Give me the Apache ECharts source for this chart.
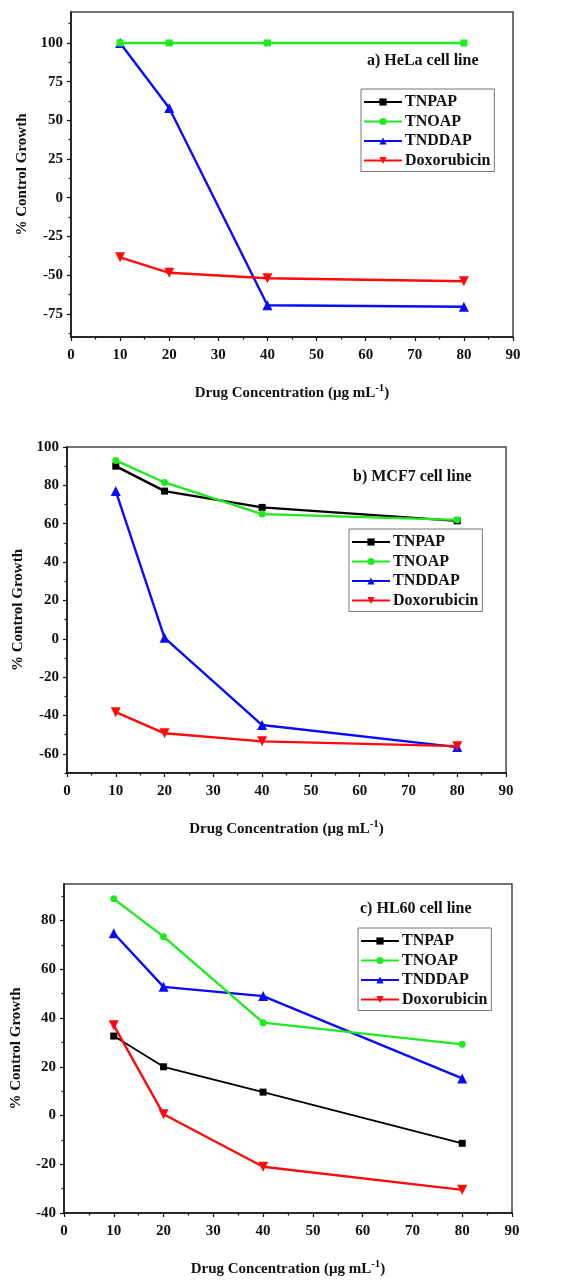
<!DOCTYPE html>
<html>
<head>
<meta charset="utf-8">
<script src="https://cdn.jsdelivr.net/npm/echarts@6/dist/echarts.min.js"></script>
<style>
  html, body { margin: 0; padding: 0; background: #fff; }
  #main { width: 561px; height: 1281px; }
</style>
</head>
<body>
<div id="main"></div>
<script>
// drug concentrations (ug/mL) and series names
var conc = [10, 20, 40, 80];
var names = ['TNPAP', 'TNOAP', 'TNDDAP', 'Doxorubicin'];

// a) HeLa
var helaTNPAP = [100, 100, 100, 100];
var helaTNOAP = [100, 100, 100, 100];
var helaTNDDAP = [100, 58, -69.5, -70.5];
var helaDox = [-38.5, -48.5, -52, -54];

// b) MCF7
var mcfTNPAP = [90, 77, 68.5, 61.5];
var mcfTNOAP = [93, 81.5, 65, 62];
var mcfTNDDAP = [77, 0.5, -45, -56.5];
var mcfDox = [-38.3, -49.3, -53.5, -56];

// c) HL60
var hlTNPAP = [32.6, 20, 9.6, -11.4];
var hlTNOAP = [88.9, 73.4, 38.1, 29.2];
var hlTNDDAP = [74.8, 52.8, 49, 15.2];
var hlDox = [37, 0.5, -21, -30.5];

// tick labels
var xTicks = [0, 10, 20, 30, 40, 50, 60, 70, 80, 90];
var xMinor = [5, 15, 25, 35, 45, 55, 65, 75, 85];
var yTicksA = [-75, -50, -25, 0, 25, 50, 75, 100];
var yMinorA = [-87.5, -62.5, -37.5, -12.5, 12.5, 37.5, 62.5, 87.5, 112.5];
var yTicksB = [-60, -40, -20, 0, 20, 40, 60, 80, 100];
var yMinorB = [-70, -50, -30, -10, 10, 30, 50, 70, 90];
var yTicksC = [-40, -20, 0, 20, 40, 60, 80];
var yMinorC = [-30, -10, 10, 30, 50, 70, 90];

var FONT = '"Liberation Serif", "Times New Roman", serif';
var colors = ['#000000', '#1eea1e', '#0a0aff', '#ff0a0a'];
var symbols = ['rect', 'circle', 'triangle', 'triangle'];
var rotates = [0, 0, 0, 180];

var panels = [
  { grid: { left: 71, top: 12, width: 442, height: 325 }, ymin: -90, ymax: 120,
    yt: yTicksA, ym: yMinorA, title: 'a) HeLa cell line', tpos: [367, 53],
    lpos: [361, 89], ygap: 41, data: [helaTNPAP, helaTNOAP, helaTNDDAP, helaDox] },
  { grid: { left: 67, top: 447, width: 439, height: 326 }, ymin: -70, ymax: 100,
    yt: yTicksB, ym: yMinorB, title: 'b) MCF7 cell line', tpos: [353, 469],
    lpos: [349, 529], ygap: 41, data: [mcfTNPAP, mcfTNOAP, mcfTNDDAP, mcfDox] },
  { grid: { left: 64, top: 884, width: 448, height: 329 }, ymin: -40, ymax: 95,
    yt: yTicksC, ym: yMinorC, title: 'c) HL60 cell line', tpos: [360, 901],
    lpos: [358, 928], ygap: 40, data: [hlTNPAP, hlTNOAP, hlTNDDAP, hlDox] }
];

var grids = [], xAxes = [], yAxes = [], series = [], titles = [], legends = [];

panels.forEach(function (p, k) {
  grids.push(Object.assign({ show: true, borderColor: '#444', borderWidth: 1.5,
    backgroundColor: 'transparent' }, p.grid));

  // major x axis
  xAxes.push({
    gridIndex: k, type: 'value', min: 0, max: 90,
    name: '{n|Drug Concentration (\u03bcg mL}{s|-1}{n|)}',
    nameLocation: 'middle', nameGap: 46,
    nameTextStyle: { rich: {
      n: { fontFamily: FONT, fontWeight: 'bold', fontSize: 15, color: '#111' },
      s: { fontFamily: FONT, fontWeight: 'bold', fontSize: 11, color: '#111', padding: [0, 0, 10, 0] }
    } },
    axisLine: { show: true, onZero: false, lineStyle: { color: '#111', width: 1.5 } },
    axisTick: { show: true, length: 4, customValues: xTicks, lineStyle: { color: '#111', width: 1.2 } },
    axisLabel: { customValues: xTicks, margin: 11, fontFamily: FONT, fontWeight: 'bold', fontSize: 15, color: '#111' },
    splitLine: { show: false }
  });
  // minor x ticks
  xAxes.push({
    gridIndex: k, type: 'value', min: 0, max: 90, position: 'bottom',
    axisLine: { show: false, onZero: false },
    axisTick: { show: true, length: 2.5, customValues: xMinor, lineStyle: { color: '#111', width: 1.2 } },
    axisLabel: { show: false }, splitLine: { show: false }
  });

  yAxes.push({
    gridIndex: k, type: 'value', min: p.ymin, max: p.ymax,
    name: '% Control Growth', nameLocation: 'middle', nameGap: p.ygap,
    nameTextStyle: { fontFamily: FONT, fontWeight: 'bold', fontSize: 15, color: '#111' },
    axisLine: { show: true, onZero: false, lineStyle: { color: '#111', width: 1.5 } },
    axisTick: { show: true, length: 4, customValues: p.yt, lineStyle: { color: '#111', width: 1.2 } },
    axisLabel: { customValues: p.yt, margin: 8, fontFamily: FONT, fontWeight: 'bold', fontSize: 15, color: '#111' },
    splitLine: { show: false }
  });
  yAxes.push({
    gridIndex: k, type: 'value', min: p.ymin, max: p.ymax, position: 'left',
    axisLine: { show: false, onZero: false },
    axisTick: { show: true, length: 2.5, customValues: p.ym, lineStyle: { color: '#111', width: 1.2 } },
    axisLabel: { show: false }, splitLine: { show: false }
  });

  titles.push({
    text: p.title, left: p.tpos[0], top: p.tpos[1], padding: 0,
    textStyle: { fontFamily: FONT, fontWeight: 'bold', fontSize: 16, color: '#111' }
  });

  legends.push({
    data: names, orient: 'vertical', left: p.lpos[0], top: p.lpos[1],
    itemWidth: 38, itemHeight: 9, itemGap: 3.5, padding: [5, 4, 3, 2],
    borderColor: '#777', borderWidth: 1, backgroundColor: '#fff',
    selectedMode: false,
    textStyle: { fontFamily: FONT, fontWeight: 'bold', fontSize: 16,
      color: '#111', padding: [0, 0, 0, -2] }
  });

  var batch = [];
  names.forEach(function (nm, i) {
    var vals = p.data[i];
    // HeLa: TNOAP points drawn as squares, TNPAP hidden underneath
    var sym = (k === 0 && i === 1) ? 'rect' : symbols[i];
    var hidden = (k === 0 && i === 0);
    batch.push({
      name: nm, type: 'line', xAxisIndex: 2 * k, yAxisIndex: 2 * k,
      data: conc.map(function (c, j) { return [c, vals[j]]; }),
      symbol: sym, symbolRotate: rotates[i],
      symbolSize: hidden ? 5 : (i >= 2 ? 10 : 7),
      lineStyle: { color: colors[i], width: hidden ? 1.2 : (i === 0 && k === 2 ? 1.8 : 2.4) },
      itemStyle: { color: colors[i] },
      z: i === 1 ? 3 : 2,
      animation: false
    });
  });
  // later panels first so the legend icons come from panel b/c symbols
  series = batch.concat(series);
});

var chart = echarts.init(document.getElementById('main'));
chart.setOption({
  backgroundColor: '#fff',
  animation: false,
  title: titles,
  legend: legends,
  grid: grids,
  xAxis: xAxes,
  yAxis: yAxes,
  series: series
});
</script>
</body>
</html>
